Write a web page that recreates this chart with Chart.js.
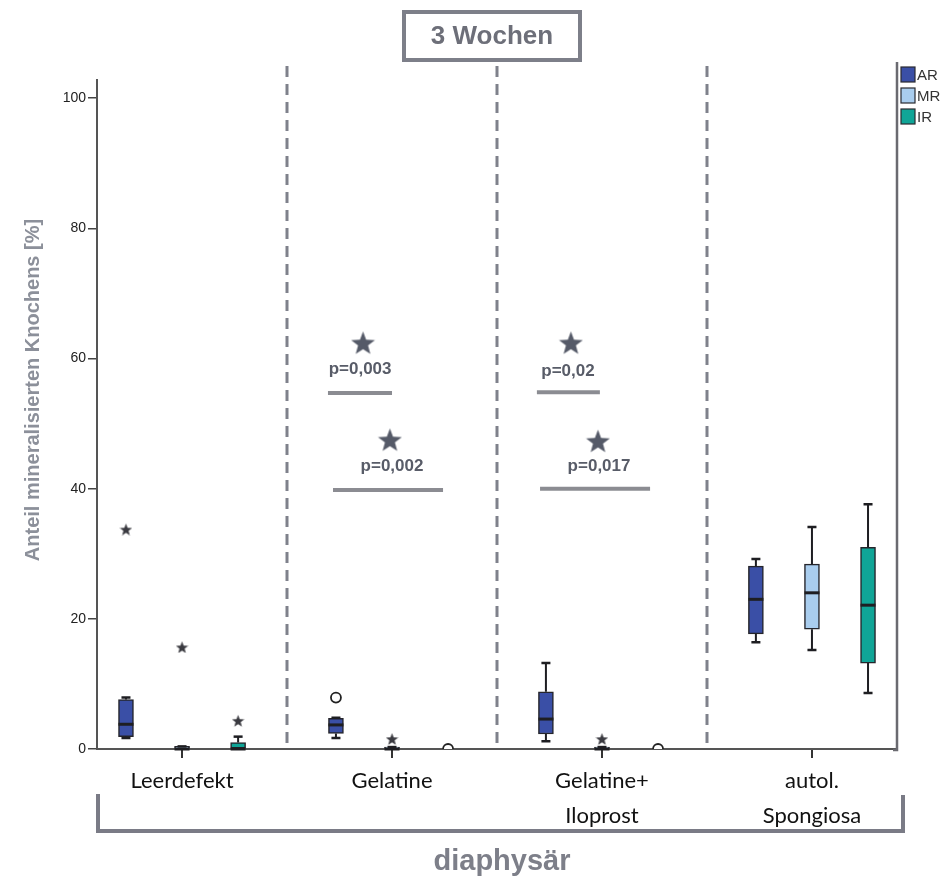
<!DOCTYPE html>
<html>
<head>
<meta charset="utf-8">
<script src="https://cdn.jsdelivr.net/npm/chart.js@4.4.1/dist/chart.umd.min.js"></script>
<style>
  html, body { margin: 0; padding: 0; background: #fff; }
  #wrap { width: 945px; height: 883px; }
</style>
</head>
<body>
<div id="wrap"><canvas id="chart" width="945" height="883"></canvas></div>
<script>
// Categories on the x axis
const categories = ["Leerdefekt", "Gelatine", ["Gelatine+", "Iloprost"], ["autol.", "Spongiosa"]];
const groups = ["AR", "MR", "IR"];
const groupColors = ["#3a4fa6", "#a9cdee", "#10a597"];

// Box plot values, one entry per category
const arMin = [1.7, 1.7, 1.2, 16.4];
const arQ1 = [1.9, 2.4, 2.3, 17.7];
const arMedian = [3.8, 3.7, 4.6, 23.0];
const arQ3 = [7.6, 4.7, 8.8, 28.1];
const arMax = [7.9, 4.8, 13.2, 29.2];

const mrMin = [0, 0, 0, 15.2];
const mrQ1 = [0, 0, 0, 18.4];
const mrMedian = [0, 0, 0, 24.0];
const mrQ3 = [0.4, 0.3, 0.3, 28.4];
const mrMax = [0.4, 0.3, 0.3, 34.1];

const irMin = [0, 0, 0, 8.6];
const irQ1 = [0, 0, 0, 13.2];
const irMedian = [0, 0, 0, 22.1];
const irQ3 = [1.0, 0, 0, 31.0];
const irMax = [1.9, 0, 0, 37.6];

// Outliers (star = extreme, circle = mild), null where there is none
const arStars = [33.8, null, null, null];
const mrStars = [15.7, 1.6, 1.6, null];
const irStars = [4.4, null, null, null];
const arCircles = [null, 7.9, null, null];
const mrCircles = [null, null, null, null];
const irCircles = [null, 0, 0, null];

// Significance bars (x in category units, y in %)
const sigLabels = ["p=0,003", "p=0,002", "p=0,02", "p=0,017"];
const sigFrom = [0.695, 0.719, 1.690, 1.705];
const sigTo = [1.0, 1.243, 1.990, 2.229];
const sigLevel = [54.7, 39.8, 54.8, 40.0];
const sigStarX = [0.862, 0.990, 1.852, 1.981];
const sigStarY = [62.4, 47.5, 62.4, 47.3];
const sigTextX = [0.848, 1.0, 1.838, 1.986];
const sigTextY = [58.3, 43.4, 58.1, 43.4];

const yTickStep = 20;

// group offsets inside a category
const groupOffset = [-0.267, 0, 0.267];

const boxes = [
  { min: arMin, q1: arQ1, median: arMedian, q3: arQ3, max: arMax, stars: arStars, circles: arCircles },
  { min: mrMin, q1: mrQ1, median: mrMedian, q3: mrQ3, max: mrMax, stars: mrStars, circles: mrCircles },
  { min: irMin, q1: irQ1, median: irMedian, q3: irQ3, max: irMax, stars: irStars, circles: irCircles },
];

// draw a filled five point star on a small canvas, used as point style
function makeStar(size, color) {
  const c = document.createElement("canvas");
  c.width = size;
  c.height = size;
  const g = c.getContext("2d");
  const r = size / 2;
  g.beginPath();
  for (let k = 0; k < 10; k++) {
    const rad = k % 2 === 0 ? r : r * 0.42;
    const ang = -Math.PI / 2 + (k * Math.PI) / 5;
    g.lineTo(r + rad * Math.cos(ang), r + 1 + rad * Math.sin(ang));
  }
  g.closePath();
  g.fillStyle = color;
  g.fill();
  return c;
}
const smallStar = makeStar(13, "#3a3a40");
const bigStar = makeStar(25, "#555a68");

// Build datasets
var datasets = [];

boxes.forEach((b, gi) => {
  datasets.push({
    type: "bar",
    label: groups[gi],
    data: categories.map((c, i) => ({ x: i + groupOffset[gi], y: [b.q1[i], b.q3[i]] })),
    backgroundColor: groupColors[gi],
    borderColor: "#25252b",
    borderWidth: 1.5,
    borderSkipped: false,
    barThickness: 15,
    grouped: false,
  });
});

var starPoints = [];
var circlePoints = [];
boxes.forEach((b, gi) => {
  categories.forEach((c, i) => {
    if (b.stars[i] !== null) starPoints.push({ x: i + groupOffset[gi], y: b.stars[i] });
    if (b.circles[i] !== null) circlePoints.push({ x: i + groupOffset[gi], y: b.circles[i] });
  });
});

datasets.push({
  type: "scatter",
  label: "extreme",
  data: starPoints,
  pointStyle: smallStar,
  pointRadius: 6,
  clip: 0,
});
datasets.push({
  type: "scatter",
  label: "outlier",
  data: circlePoints,
  pointStyle: "circle",
  pointRadius: 5,
  borderWidth: 1.8,
  borderColor: "#222",
  backgroundColor: "#fff",
  clip: 0,
});

for (let s = 0; s < sigLabels.length; s++) {
  datasets.push({
    type: "line",
    label: sigLabels[s],
    data: [
      { x: sigFrom[s], y: sigLevel[s] },
      { x: sigTo[s], y: sigLevel[s] },
    ],
    borderColor: "#8b8c92",
    borderWidth: 4,
    pointRadius: 0,
  });
}
datasets.push({
  type: "scatter",
  label: "sig",
  data: sigStarX.map((v, k) => ({ x: v, y: sigStarY[k] })),
  pointStyle: bigStar,
  pointRadius: 12,
});

// Whiskers, medians, separators and the other decorations
const decorations = {
  id: "decorations",
  beforeDatasetsDraw(chart) {
    const { ctx, chartArea: a, scales: { x } } = chart;
    ctx.save();
    // dashed separators between the categories
    ctx.strokeStyle = "#7f818b";
    ctx.lineWidth = 3;
    ctx.setLineDash([11, 7]);
    for (let i = 0; i < categories.length - 1; i++) {
      const px = Math.round(x.getPixelForValue(i + 0.5));
      ctx.beginPath();
      ctx.moveTo(px, 66);
      ctx.lineTo(px, a.bottom - 3);
      ctx.stroke();
    }
    ctx.setLineDash([]);
    // right frame line
    ctx.strokeStyle = "#6a6a70";
    ctx.lineWidth = 2.5;
    ctx.beginPath();
    ctx.moveTo(a.right, 62);
    ctx.lineTo(a.right, a.bottom + 1);
    ctx.lineTo(a.right - 4, a.bottom + 1);
    ctx.stroke();
    ctx.restore();
  },
  afterDatasetsDraw(chart) {
    const { ctx, chartArea: a, scales: { x, y } } = chart;
    ctx.save();
    ctx.strokeStyle = "#1e1e22";
    boxes.forEach((b, gi) => {
      categories.forEach((c, i) => {
        if (b.max[i] === 0) return;
        const cx = x.getPixelForValue(i + groupOffset[gi]);
        const yMax = y.getPixelForValue(b.max[i]);
        const yMin = y.getPixelForValue(b.min[i]);
        const yQ1 = y.getPixelForValue(b.q1[i]);
        const yQ3 = y.getPixelForValue(b.q3[i]);
        const yMed = y.getPixelForValue(b.median[i]);
        ctx.lineWidth = 2;
        ctx.beginPath();
        ctx.moveTo(cx, yQ3);
        ctx.lineTo(cx, yMax);
        ctx.moveTo(cx, yQ1);
        ctx.lineTo(cx, yMin);
        ctx.stroke();
        ctx.lineWidth = 2.5;
        ctx.beginPath();
        ctx.moveTo(cx - 4.5, yMax);
        ctx.lineTo(cx + 4.5, yMax);
        if (b.min[i] > 0) {
          ctx.moveTo(cx - 4.5, yMin);
          ctx.lineTo(cx + 4.5, yMin);
        }
        ctx.stroke();
        ctx.lineWidth = 3;
        ctx.beginPath();
        ctx.moveTo(cx - 7.5, yMed);
        ctx.lineTo(cx + 7.5, yMed);
        ctx.stroke();
      });
    });

    // p values
    ctx.fillStyle = "#585c68";
    ctx.font = "bold 17px 'Liberation Sans', Arial, sans-serif";
    ctx.textAlign = "center";
    ctx.textBaseline = "middle";
    sigLabels.forEach((t, k) => {
      ctx.fillText(t, x.getPixelForValue(sigTextX[k]), y.getPixelForValue(sigTextY[k]));
    });

    // y axis title
    ctx.save();
    ctx.translate(33, 390);
    ctx.rotate(-Math.PI / 2);
    ctx.fillStyle = "#8c909a";
    ctx.font = "bold 20px 'Liberation Sans', Arial, sans-serif";
    ctx.fillText("Anteil mineralisierten Knochens [%]", 0, 0);
    ctx.restore();

    // title box
    ctx.strokeStyle = "#7d7f89";
    ctx.lineWidth = 4;
    ctx.strokeRect(404, 12, 176, 48);
    ctx.fillStyle = "#6d6f79";
    ctx.font = "bold 26px 'Liberation Sans', Arial, sans-serif";
    ctx.fillText("3 Wochen", 492, 37);

    // legend
    ctx.textAlign = "left";
    ctx.font = "15px 'Liberation Sans', Arial, sans-serif";
    groups.forEach((gname, gi) => {
      const ly = 67 + gi * 21;
      ctx.fillStyle = groupColors[gi];
      ctx.fillRect(901, ly, 14, 15);
      ctx.strokeStyle = "#2a2a30";
      ctx.lineWidth = 1.2;
      ctx.strokeRect(901, ly, 14, 15);
      ctx.fillStyle = "#333";
      ctx.fillText(gname, 917, ly + 8.5);
    });

    // bracket under the categories
    ctx.strokeStyle = "#7a7b86";
    ctx.lineWidth = 4;
    ctx.beginPath();
    ctx.moveTo(98, 794);
    ctx.lineTo(98, 831);
    ctx.lineTo(903, 831);
    ctx.lineTo(903, 795);
    ctx.stroke();
    ctx.fillStyle = "#7d7f89";
    ctx.textAlign = "center";
    ctx.font = "bold 29px 'Liberation Sans', Arial, sans-serif";
    ctx.fillText("diaphysär", 502, 862);
    ctx.restore();
  },
};

const ctx = document.getElementById("chart").getContext("2d");
new Chart(ctx, {
  type: "bar",
  data: { datasets: datasets },
  options: {
    responsive: false,
    animation: false,
    layout: { padding: { left: 15, right: 48, top: 80, bottom: 34 } },
    plugins: {
      legend: { display: false },
      tooltip: { enabled: false },
    },
    scales: {
      x: {
        type: "linear",
        min: -0.405,
        max: 3.405,
        offset: false,
        afterBuildTicks: (s) => {
          s.ticks = categories.map((c, i) => ({ value: i }));
        },
        afterFit: (s) => {
          s.height = 100;
        },
        ticks: {
          autoSkip: false,
          maxRotation: 0,
          padding: 5,
          color: "#111",
          font: { family: "Lato, 'Open Sans', sans-serif", size: 22, lineHeight: 1.6 },
          callback: (v) => categories[v],
        },
        grid: { drawOnChartArea: false, offset: false, tickLength: 9, color: "#333", lineWidth: 2 },
        border: { color: "#555", width: 2 },
      },
      y: {
        min: 0,
        max: 102.8,
        afterFit: (s) => {
          s.width = 82;
        },
        ticks: {
          stepSize: yTickStep,
          includeBounds: false,
          padding: 2,
          color: "#222",
          font: { family: "'Liberation Sans', Arial, sans-serif", size: 14 },
        },
        grid: { drawOnChartArea: false, tickLength: 9, color: "#444", lineWidth: 1.5 },
        border: { color: "#555", width: 2 },
      },
    },
  },
  plugins: [decorations],
});
</script>
</body>
</html>
